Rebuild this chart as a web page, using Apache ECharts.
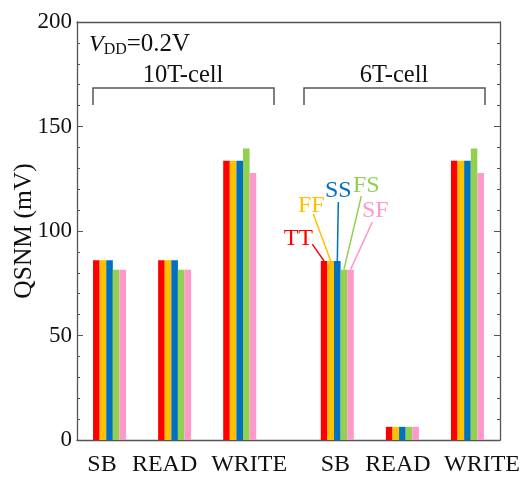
<!DOCTYPE html>
<html>
<head>
<meta charset="utf-8">
<script src="https://cdn.jsdelivr.net/npm/echarts@6/dist/echarts.min.js"></script>
<style>html,body{margin:0;padding:0;background:#fff}#c{width:523px;height:477px}</style>
</head>
<body>
<div id="c"></div>
<script>
// ---- data ----
const groupLabels = ['SB', 'READ', 'WRITE', 'SB', 'READ', 'WRITE'];
const cellTypes = ['10T-cell', '6T-cell'];
const cornerNames = ['TT', 'FF', 'SS', 'FS', 'SF'];
const valTT = [86, 86, 133.6, 85.6, 6.3, 133.6];
const valFF = [86, 86, 133.6, 85.6, 6.3, 133.6];
const valSS = [86, 86, 133.6, 85.6, 6.3, 133.6];
const valFS = [81.5, 81.5, 139.5, 81.5, 6.3, 139.5];
const valSF = [81.5, 81.5, 127.8, 81.5, 6.3, 127.8];
const yTicks = [0, 50, 100, 150, 200];

// ---- layout helpers ----
const colors = ['#FF0000', '#FFC000', '#0070C0', '#92D050', '#FF99CC'];
const slots = [1, 3, 5, 8, 10, 12];      // half-step slots on the x axis
const labelShift = [-7.5, -10, 9.5, -2, -4.5, 14.5]; // px shift of each category label
const nSlots = 14;
const slotKeys = [];
for (let i = 0; i < nSlots; i++) slotKeys.push('s' + i);
const slotLabel = {};
const rich = {};
slots.forEach((s, k) => {
  slotLabel['s' + s] = '{r' + k + '|' + groupLabels[k] + '}';
  const d = labelShift[k];
  rich['r' + k] = {padding: d < 0 ? [0, -2 * d, 0, 0] : [0, 0, 0, 2 * d]};
});

function toSlotData(vals) {
  const arr = new Array(nSlots).fill(null);
  slots.forEach((s, k) => { arr[s] = vals[k]; });
  return arr;
}
const allVals = [valTT, valFF, valSS, valFS, valSF];
const barW = 6.6;
const FONT = '"Liberation Serif", "Times New Roman", serif';
const axisColor = '#555';

const chart = echarts.init(document.getElementById('c'), null, {renderer: 'canvas'});
const series = allVals.map((v, i) => ({
  name: cornerNames[i],
  type: 'bar',
  data: toSlotData(v),
  barWidth: barW,
  barGap: '0%',
  itemStyle: {color: colors[i]},
  silent: true,
  animation: false
}));

chart.setOption({
  animation: false,
  grid: {left: 77, right: 23, top: 22, bottom: 34},
  xAxis: [{
    type: 'category',
    data: slotKeys,
    boundaryGap: false,
    axisLine: {lineStyle: {color: axisColor, width: 1.3}},
    axisTick: {show: false},
    axisLabel: {
      interval: 0,
      margin: 13,
      color: '#111',
      fontFamily: FONT,
      fontSize: 24,
      formatter: k => slotLabel[k] || '',
      rich: rich
    }
  }, {
    type: 'category',
    position: 'top',
    data: slotKeys,
    boundaryGap: false,
    axisLine: {show: true, onZero: false, lineStyle: {color: axisColor, width: 1.3}},
    axisTick: {show: false},
    axisLabel: {show: false}
  }],
  yAxis: [{
    type: 'value',
    min: yTicks[0],
    max: yTicks[yTicks.length - 1],
    interval: 50,
    name: 'QSNM (mV)',
    nameLocation: 'middle',
    nameGap: 40,
    nameMoveOverlap: false,
    nameTextStyle: {fontFamily: FONT, fontSize: 25.5, color: '#111'},
    axisLine: {show: true, lineStyle: {color: axisColor, width: 1.3}},
    axisTick: {show: true, inside: true, length: 6, lineStyle: {color: axisColor}},
    minorTick: {show: true, splitNumber: 5, length: 3, lineStyle: {color: axisColor}},
    axisLabel: {margin: 5, color: '#111', fontFamily: FONT, fontSize: 23},
    splitLine: {show: false}
  }, {
    type: 'value',
    position: 'right',
    min: yTicks[0],
    max: yTicks[yTicks.length - 1],
    interval: 50,
    axisLine: {show: true, lineStyle: {color: axisColor, width: 1.3}},
    axisTick: {show: true, inside: true, length: 6, lineStyle: {color: axisColor}},
    minorTick: {show: true, splitNumber: 5, length: 3, lineStyle: {color: axisColor}},
    axisLabel: {show: false},
    splitLine: {show: false}
  }],
  series: series
});

// ---- annotations ----
const graphics = [];
// VDD label
graphics.push({
  type: 'text', left: 89, top: 32,
  style: {
    text: '{i|V}{s|DD}{n|=0.2V}',
    rich: {
      i: {fontFamily: FONT, fontSize: 24, fontStyle: 'italic', fill: '#111'},
      s: {fontFamily: FONT, fontSize: 16, fill: '#111', padding: [10, 0, 0, 0]},
      n: {fontFamily: FONT, fontSize: 25, fill: '#111'}
    }
  }
});
// brackets
const brackets = [[93, 274, 183], [304, 485, 394]];
brackets.forEach((b, k) => {
  graphics.push({
    type: 'polyline',
    shape: {points: [[b[0], 105], [b[0], 88], [b[1], 88], [b[1], 105]]},
    style: {stroke: '#555', lineWidth: 1.5, fill: null}
  });
  graphics.push({
    type: 'text', x: b[2], y: 76,
    style: {text: cellTypes[k], fontFamily: FONT, fontSize: 24.5, fill: '#111',
            textAlign: 'center', textVerticalAlign: 'middle'}
  });
});
// corner labels on 6T SB group
const gIdx = 3;
const cx = chart.convertToPixel({xAxisIndex: 0}, slotKeys[slots[gIdx]]);
const refTop = chart.convertToPixel({yAxisIndex: 0}, allVals[0][gIdx]);
// [text dx, text dy, line start dx, line start dy] relative to group centre / top of TT bar
const lab = [[-39, -22, -25, -17], [-26, -55, -24, -47], [1, -70, 1, -59], [29, -75, 24, -65], [38, -50, 35, -39]];
allVals.forEach((v, i) => {
  const bx = cx + (i - 2) * barW;
  const by = chart.convertToPixel({yAxisIndex: 0}, v[gIdx]);
  const L = lab[i];
  graphics.push({
    type: 'line',
    shape: {x1: cx + L[2], y1: refTop + L[3], x2: bx, y2: by},
    style: {stroke: colors[i], lineWidth: 1.5}
  });
  graphics.push({
    type: 'text', x: cx + L[0], y: refTop + L[1],
    style: {text: cornerNames[i], fontFamily: FONT, fontSize: 24, fill: colors[i],
            textAlign: 'center', textVerticalAlign: 'middle'}
  });
});
chart.setOption({graphic: graphics});
</script>
</body>
</html>
